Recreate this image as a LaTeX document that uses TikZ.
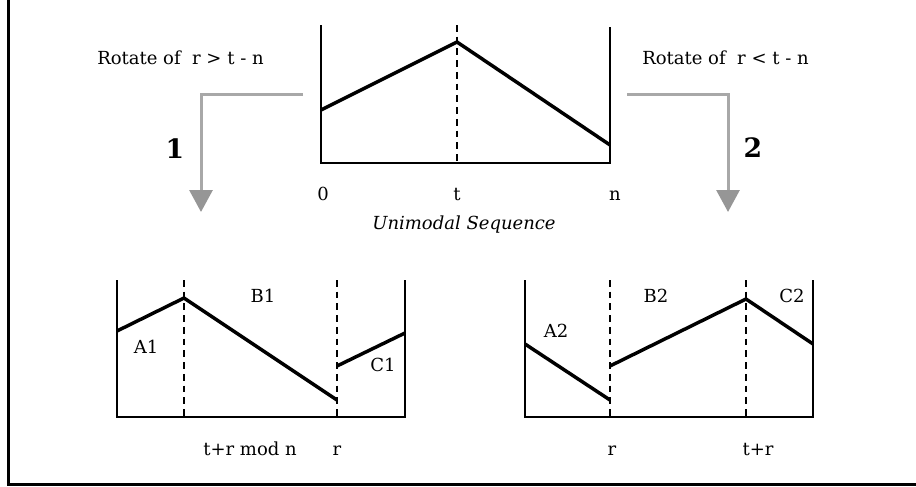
\documentclass[tikz,border=0pt]{standalone}
\usepackage{fontspec}
\setmainfont{DejaVu Serif}
\usetikzlibrary{arrows.meta}
\definecolor{flowgray}{RGB}{168,168,168}
\definecolor{tipgray}{RGB}{150,150,150}

\begin{document}
\begin{tikzpicture}[
				x=0.75pt, y=-0.75pt,
				axis/.style={line width=1.5pt, black},
				curve/.style={line width=2.6pt, black, line join=miter},
				marker/.style={line width=1.1pt, black, dash pattern=on 5pt off 3.8pt},
				frame/.style={line width=2.25pt, black},
				flow/.style={-{Triangle[length=16.5pt, width=17.25pt, color=tipgray]}, line width=2.25pt, color=flowgray},
				lbl/.style={inner sep=0pt, anchor=base, font=\fontsize{13.5}{16}\selectfont},
				rule/.style={inner sep=0pt, anchor=base west, font=\fontsize{13.5}{16}\selectfont},
				casenum/.style={inner sep=0pt, anchor=base, font=\fontsize{20}{24}\selectfont\bfseries}
				]
				\useasboundingbox (0,0) rectangle (916,486);
				\draw[frame] (8.5,0) -- (8.5,484.5) -- (916,484.5);

				% unimodal sequence
				\draw[axis] (321,25) -- (321,163) -- (610,163) -- (610,27);
				\draw[marker] (457,25) -- (457,163);
				\draw[curve] (321,110) -- (457,42) -- (610,145);
				\node[lbl] (zero) at (323,200) {0};
				\node[lbl] (tpeak) at (457,200) {t};
				\node[lbl] (nend) at (615,200) {n};
				\node[lbl, font=\fontsize{13.5}{16}\selectfont\itshape] (title) at (464,229) {Unimodal Sequence};

				% rotation cases
				\node[rule] (rule1) at (97,64) {Rotate of~~r > t - n};
				\node[rule] (rule2) at (642,64) {Rotate of~~r < t - n};
				\coordinate (src1) at (303,94);
				\coordinate (dst1) at (201,212);
				\coordinate (src2) at (627,94);
				\coordinate (dst2) at (728,212);
				\draw[flow] (src1) -| (dst1);
				\draw[flow] (src2) -| (dst2);
				\node[casenum] (case1) at (175,158) {1};
				\node[casenum] (case2) at (753,157) {2};

				% case 1
				\draw[axis] (117,280) -- (117,417) -- (405,417) -- (405,280);
				\draw[marker] (184,280) -- (184,417);
				\draw[marker] (337,280) -- (337,417);
				\draw[curve] (117,331) -- (184,298) -- (337,400);
				\draw[curve] (337,366) -- (405,333);
				\node[lbl] (a1) at (146,353) {A1};
				\node[lbl] (b1) at (263,302) {B1};
				\node[lbl] (c1) at (383,371) {C1};
				\node[lbl] (peak1) at (250,455) {t+r mod n};
				\node[lbl] (cut1) at (337,455) {r};

				% case 2
				\draw[axis] (525,280) -- (525,417) -- (813,417) -- (813,280);
				\draw[marker] (610,280) -- (610,417);
				\draw[marker] (746,280) -- (746,417);
				\draw[curve] (525,344) -- (610,400);
				\draw[curve] (610,366) -- (746,299) -- (813,344);
				\node[lbl] (a2) at (556,337) {A2};
				\node[lbl] (b2) at (656,302) {B2};
				\node[lbl] (c2) at (792,302) {C2};
				\node[lbl] (cut2) at (612,455) {r};
				\node[lbl] (peak2) at (758,455) {t+r};
			\end{tikzpicture}
\end{document}
